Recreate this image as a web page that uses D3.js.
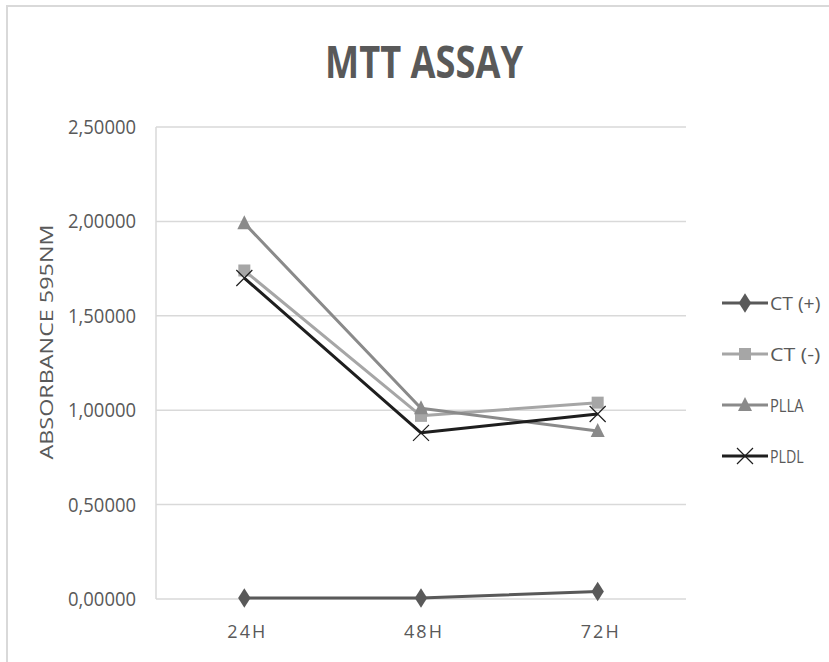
<!DOCTYPE html>
<html>
<head>
<meta charset="utf-8">
<script src="https://cdn.jsdelivr.net/npm/d3@7"></script>
<style>
  body { margin: 0; background: #fff; }
  svg { display: block; }
</style>
</head>
<body>
<svg id="chart"></svg>
<script>
// Chart data
const categories = ['24H', '48H', '72H'];
const seriesNames = ['CT (+)', 'CT (-)', 'PLLA', 'PLDL'];
const ctPlus = [0.005, 0.005, 0.04];
const ctMinus = [1.74, 0.97, 1.04];
const plla = [1.99, 1.01, 0.89];
const pldl = [1.70, 0.88, 0.98];
const yTicks = [0, 0.5, 1.0, 1.5, 2.0, 2.5];

const width = 829, height = 662;
const margin = { top: 127, right: 143, bottom: 63, left: 156 };

const seriesStyle = {
  'CT (+)': { color: '#595959', marker: 'diamond' },
  'CT (-)': { color: '#a6a6a6', marker: 'square' },
  'PLLA':   { color: '#8a8a8a', marker: 'triangle' },
  'PLDL':   { color: '#1e1e1e', marker: 'cross' }
};
const seriesValues = [ctPlus, ctMinus, plla, pldl];
const series = seriesNames.map((name, i) => ({ name, values: seriesValues[i] }));

const svg = d3.select('#chart')
  .attr('width', width)
  .attr('height', height);

// frame of the pasted chart
svg.append('line').attr('x1', 6).attr('x2', width).attr('y1', 6).attr('y2', 6)
  .attr('stroke', '#d9d9d9').attr('stroke-width', 2);
svg.append('line').attr('x1', 7).attr('x2', 7).attr('y1', 6).attr('y2', height)
  .attr('stroke', '#d9d9d9').attr('stroke-width', 2);

const innerW = width - margin.left - margin.right;
const innerH = height - margin.top - margin.bottom;

const x = d3.scaleBand().domain(categories).range([0, innerW]);
const y = d3.scaleLinear().domain([0, 2.5]).range([innerH, 0]);

const g = svg.append('g').attr('transform', `translate(${margin.left},${margin.top})`);

// Title
svg.append('text')
  .attr('x', 424).attr('y', 78)
  .attr('text-anchor', 'middle')
  .attr('font-family', 'Open Sans, sans-serif')
  .attr('font-weight', 'bold')
  .attr('font-size', 45)
  .attr('fill', '#595959')
  .attr('textLength', 198)
  .attr('lengthAdjust', 'spacingAndGlyphs')
  .text('MTT ASSAY');

// gridlines
g.append('g').selectAll('line')
  .data(yTicks)
  .join('line')
  .attr('x1', 0).attr('x2', innerW)
  .attr('y1', d => y(d)).attr('y2', d => y(d))
  .attr('stroke', '#d9d9d9').attr('stroke-width', 1.5);

// left axis line
g.append('line').attr('x1', 0).attr('x2', 0).attr('y1', 0).attr('y2', innerH)
  .attr('stroke', '#d9d9d9').attr('stroke-width', 1.5);

// y tick labels
const fmt = d => d.toFixed(5).replace('.', ',');
g.append('g').selectAll('text')
  .data(yTicks)
  .join('text')
  .attr('x', -20).attr('y', d => y(d) + 7)
  .attr('text-anchor', 'end')
  .attr('font-family', 'Open Sans, sans-serif')
  .attr('font-size', 20)
  .attr('fill', '#595959')
  .attr('textLength', 68)
  .attr('lengthAdjust', 'spacingAndGlyphs')
  .text(fmt);

// x tick labels
g.append('g').selectAll('text')
  .data(categories)
  .join('text')
  .attr('x', d => x(d) + x.bandwidth() / 2 + 2)
  .attr('y', innerH + 39)
  .attr('text-anchor', 'middle')
  .attr('font-family', 'Open Sans, sans-serif')
  .attr('font-size', 18)
  .attr('fill', '#595959')
  .attr('textLength', 38)
  .attr('lengthAdjust', 'spacing')
  .text(d => d);

// y axis title
svg.append('text')
  .attr('transform', 'translate(53,342) rotate(-90)')
  .attr('text-anchor', 'middle')
  .attr('font-family', 'Open Sans, sans-serif')
  .attr('font-size', 19)
  .attr('fill', '#595959')
  .attr('textLength', 235)
  .attr('lengthAdjust', 'spacingAndGlyphs')
  .text('ABSORBANCE 595NM');

// marker drawing
function drawMarker(sel, type, color) {
  if (type === 'diamond') {
    sel.append('path').attr('d', d3.symbol(d3.symbolDiamond, 110)())
      .attr('transform', 'scale(1.1,1)').attr('fill', color);
  } else if (type === 'square') {
    sel.append('rect').attr('x', -6).attr('y', -6).attr('width', 12).attr('height', 12)
      .attr('fill', color);
  } else if (type === 'triangle') {
    sel.append('path').attr('d', 'M0,-8L7,6L-7,6Z').attr('fill', color);
  } else if (type === 'cross') {
    sel.append('path').attr('d', 'M-8,-8L8,8M-8,8L8,-8')
      .attr('stroke', color).attr('stroke-width', 1.2).attr('fill', 'none');
  }
}

const line = d3.line()
  .x((d, i) => x(categories[i]) + x.bandwidth() / 2)
  .y(d => y(d));

series.forEach(s => {
  const st = seriesStyle[s.name];
  const sg = g.append('g');
  sg.append('path')
    .datum(s.values)
    .attr('d', line)
    .attr('fill', 'none')
    .attr('stroke', st.color)
    .attr('stroke-width', 3)
    .attr('stroke-linejoin', 'round');
  sg.selectAll('g.marker')
    .data(s.values)
    .join('g')
    .attr('class', 'marker')
    .attr('transform', (d, i) => `translate(${x(categories[i]) + x.bandwidth() / 2},${y(d)})`)
    .each(function() { drawMarker(d3.select(this), st.marker, st.color); });
});

// legend
const legendY = [303, 354, 405, 456];
const legend = svg.append('g');
series.forEach((s, i) => {
  const st = seriesStyle[s.name];
  const lg = legend.append('g').attr('transform', `translate(722,${legendY[i]})`);
  lg.append('line').attr('x1', 0).attr('x2', 46).attr('y1', 0).attr('y2', 0)
    .attr('stroke', st.color).attr('stroke-width', 3);
  const mg = lg.append('g').attr('transform', 'translate(23,0)');
  drawMarker(mg, st.marker, st.color);
  lg.append('text')
    .attr('x', 48).attr('y', 7)
    .attr('font-family', 'Open Sans, sans-serif')
    .attr('font-size', 19)
    .attr('fill', '#595959')
    .attr('textLength', s.name.length * 8.4)
    .attr('lengthAdjust', 'spacingAndGlyphs')
    .text(s.name);
});
</script>
</body>
</html>
